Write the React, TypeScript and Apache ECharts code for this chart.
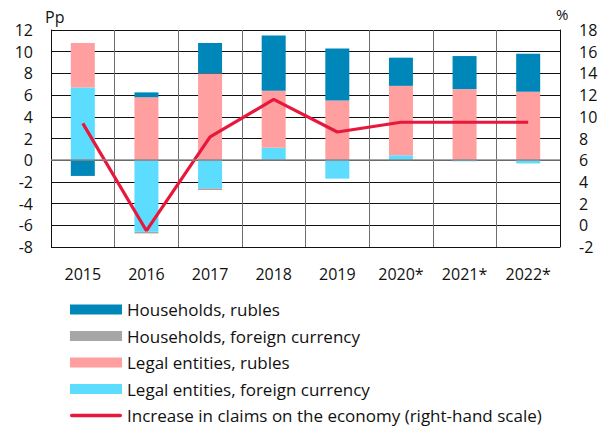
import React, { useEffect, useRef } from "react";
import * as echarts from "echarts";

const categories = ["2015", "2016", "2017", "2018", "2019", "2020*", "2021*", "2022*"];
const householdsRubles = [-1.45, 0.45, 2.8, 5.1, 4.8, 2.6, 3.05, 3.5];
const householdsForeign = [0, -0.15, -0.15, 0, 0, 0, 0, 0];
const legalRubles = [4.1, 5.8, 8.0, 5.25, 5.5, 6.4, 6.55, 6.3];
const legalForeign = [6.7, -6.6, -2.6, 1.15, -1.7, 0.45, -0.1, -0.3];
const claimsIncrease = [9.4, -0.5, 8.15, 11.6, 8.6, 9.5, 9.5, 9.5];

const leftTicks = { min: -8, max: 12, interval: 2 };
const rightTicks = { min: -2, max: 18, interval: 2 };

const names = {
  hhRub: "Households, rubles",
  hhFx: "Households, foreign currency",
  leRub: "Legal entities, rubles",
  leFx: "Legal entities, foreign currency",
  claims: "Increase in claims on the economy (right-hand scale)",
};

const colors = {
  hhRub: "#0087b9",
  hhFx: "#a6a6a6",
  leRub: "#ff9f9f",
  leFx: "#5cdcff",
  claims: "#e8173c",
};

const FONT = "'Open Sans', sans-serif";
const LINE_ICON = "path://M0,0 L0.01,0 M1,3.3 L51,3.3 A1.7,1.7 0 0 1 51,6.7 L1,6.7 A1.7,1.7 0 0 1 1,3.3 Z M0,10 L0.01,10";

export default function App() {
  const ref = useRef<HTMLDivElement>(null);
  useEffect(() => {
    if (!ref.current) return;
    const chart = echarts.init(ref.current, undefined, { renderer: "svg" });
    const barCommon = { type: "bar", stack: "total", barWidth: 24, z: 2 };
    chart.setOption({
      animation: false,
      textStyle: { fontFamily: FONT },
      grid: { left: 51, right: 43, top: 30, bottom: 179 },
      xAxis: {
        type: "category",
        data: categories,
        axisLine: { show: false, onZero: false },
        axisTick: { show: false },
        axisLabel: { color: "#111", fontSize: 16, margin: 19, fontFamily: FONT },
        splitLine: { show: true, lineStyle: { color: "#6e6e6e", width: 1 } },
      },
      yAxis: [
        {
          type: "value",
          ...leftTicks,
          axisLine: { show: true, lineStyle: { color: "#111" } },
          axisTick: { show: false },
          axisLabel: { color: "#111", fontSize: 16, margin: 18, fontFamily: FONT },
          splitLine: { show: true, lineStyle: { color: "#111", width: 1 } },
        },
        {
          type: "value",
          ...rightTicks,
          position: "right",
          axisLine: { show: true, lineStyle: { color: "#111" } },
          axisTick: { show: false },
          axisLabel: { color: "#111", fontSize: 16, margin: 19, fontFamily: FONT },
          splitLine: { show: false },
        },
      ],
      legend: {
        orient: "vertical",
        left: 65,
        top: 296,
        height: 200,
        itemWidth: 52,
        itemHeight: 10,
        itemGap: 9.5,
        textStyle: { fontSize: 17, color: "#111", lineHeight: 17, fontFamily: FONT },
        data: [
          { name: names.hhRub, icon: "rect" },
          { name: names.hhFx, icon: "rect" },
          { name: names.leRub, icon: "rect" },
          { name: names.leFx, icon: "rect" },
          { name: names.claims, icon: LINE_ICON },
        ],
      },
      graphic: [
        {
          type: "text",
          left: 45,
          top: 9,
          style: { text: "Pp", fontSize: 16, fill: "#111", fontFamily: FONT },
        },
        {
          type: "text",
          left: 556,
          top: 6,
          style: { text: "%", fontSize: 15, fill: "#111", fontFamily: FONT },
        },
      ],
      series: [
        { ...barCommon, name: names.leFx, data: legalForeign, itemStyle: { color: colors.leFx } },
        { ...barCommon, name: names.leRub, data: legalRubles, itemStyle: { color: colors.leRub } },
        { ...barCommon, name: names.hhFx, data: householdsForeign, itemStyle: { color: colors.hhFx } },
        { ...barCommon, name: names.hhRub, data: householdsRubles, itemStyle: { color: colors.hhRub } },
        {
          type: "line",
          name: names.claims,
          yAxisIndex: 1,
          data: claimsIncrease,
          symbol: "none",
          z: 4,
          lineStyle: { color: colors.claims, width: 3.2 },
          itemStyle: { color: colors.claims },
        },
        {
          type: "line",
          name: "zero",
          data: [],
          z: 3,
          markLine: {
            silent: true,
            symbol: "none",
            label: { show: false },
            lineStyle: { color: "#8a8a8a", type: "solid", width: 1.5 },
            data: [{ yAxis: 0 }],
          },
        },
      ],
    });
    return () => chart.dispose();
  }, []);
  return (
    <div
      ref={ref}
      style={{ position: "absolute", left: 0, top: 0, width: 603, height: 426 }}
    />
  );
}
